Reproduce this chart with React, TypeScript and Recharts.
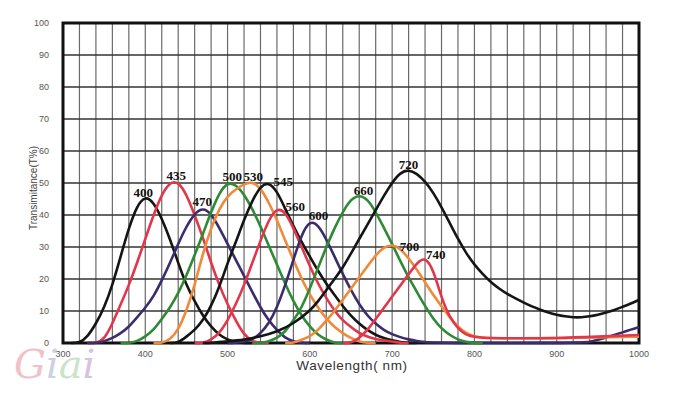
import React from 'react';
import { LineChart, Line, XAxis, YAxis, CartesianGrid, ReferenceArea, ReferenceDot } from 'recharts';

type Pt = [number, number];

const curve400: Pt[] = [[310,0],[320,0],[330,2],[340,6],[350,11],[360,18],[370,27],[380,36],[390,43],[400,46],[410,44],[420,39],[430,32.5],[440,25],[450,18],[460,13],[470,8.5],[480,5],[490,2.5],[500,1],[510,0.3],[520,0],[530,0]];
const curve435: Pt[] = [[330,0],[340,0],[350,1],[360,6],[370,12],[380,18],[390,25],[400,32.5],[410,40],[420,46.5],[430,50.3],[440,50.5],[450,46.5],[460,40],[470,33],[480,25],[490,18],[500,12],[510,7],[520,2.5],[530,0.5],[540,0],[550,0]];
const curve470: Pt[] = [[330,0],[340,0],[350,0.5],[360,1.5],[370,3],[380,5],[390,8],[400,11],[410,14.5],[420,19.5],[430,25],[440,31],[450,36.5],[460,40.5],[470,42.3],[480,40.5],[490,36],[500,31],[510,26],[520,21],[530,16],[540,11],[550,7],[560,4],[570,1.5],[580,0.5],[590,0],[600,0]];
const curve500: Pt[] = [[370,0],[380,0],[390,0.5],[400,2],[410,4],[420,7.5],[430,11],[440,15.5],[450,21],[460,27.5],[470,34],[480,41],[490,47],[500,50.3],[510,49.5],[520,46.5],[530,42],[540,36.5],[550,30.5],[560,24.5],[570,18.5],[580,13],[590,8.5],[600,5],[610,2.5],[620,1],[630,0],[640,0]];
const curve530: Pt[] = [[410,0],[420,0],[430,1],[440,4],[450,10],[460,18],[470,28],[480,36],[490,42],[500,46],[510,48],[520,49.7],[530,50.5],[540,48.5],[550,44],[560,38.5],[570,32],[580,26],[590,20],[600,15],[610,11],[620,7.5],[630,5],[640,3],[650,1.5],[660,0.5],[670,0],[680,0]];
const curve545: Pt[] = [[430,0],[440,0],[450,2],[460,4],[470,7],[480,11.5],[490,17.5],[500,25],[510,31.5],[520,38.5],[530,44.5],[540,49],[550,50.3],[560,47.5],[570,42],[580,36.5],[590,31.5],[600,27],[610,22.5],[620,18.5],[630,15],[640,11.5],[650,8.5],[660,6],[670,4],[680,2.5],[690,1.5],[700,0.8],[710,0.3],[720,0],[730,0]];
const curve560: Pt[] = [[460,0],[470,0],[480,1],[490,3],[500,7],[510,12],[520,18],[530,25],[540,32],[550,38.5],[560,42.3],[570,41],[580,36],[590,30],[600,24],[610,18.5],[620,14],[630,10],[640,7],[650,5],[660,3],[670,2],[680,1.2],[690,0.8],[700,0.5],[710,0],[720,0]];
const curve600: Pt[] = [[500,0],[510,0],[520,0.5],[530,1],[540,3],[550,6],[560,11],[570,18],[580,26],[590,34],[600,38.3],[610,37],[620,32.5],[630,27],[640,21.5],[650,16.5],[660,12],[670,8.5],[680,6],[690,4],[700,2.7],[710,1.8],[720,1.1],[730,0.6],[740,0.3],[750,0],[930,0],[940,0.3],[950,1],[960,1.7],[970,2.5],[980,3.3],[990,4.2],[1000,5]];
const curve660: Pt[] = [[530,0],[540,0],[550,0.5],[560,1.5],[570,3.5],[580,7],[590,11],[600,17],[610,23.5],[620,30],[630,36],[640,41],[650,45],[660,46.3],[670,45],[680,41],[690,36],[700,31],[710,25.5],[720,20.5],[730,16],[740,11.5],[750,7.5],[760,4.5],[770,2.5],[780,1],[790,0.3],[800,0],[810,0]];
const curve700: Pt[] = [[570,0],[580,0],[590,1],[600,2],[610,4],[620,7],[630,10],[640,13.5],[650,17],[660,20.5],[670,24],[680,27.5],[690,30],[700,30.8],[710,29.5],[720,26.5],[730,23],[740,19],[750,15],[760,11.5],[770,8],[780,5],[790,3],[800,2],[810,1.5],[850,1.5],[900,1.5],[950,1.7],[1000,2]];
const curve720: Pt[] = [[470,0],[480,0],[500,0.5],[520,1],[540,2],[560,3.5],[580,6],[600,10],[610,13],[620,16.5],[630,20],[640,23.5],[650,28],[660,32.5],[670,37],[680,41.5],[690,46],[700,50.2],[710,53.3],[720,54.2],[730,53],[740,50.5],[750,47],[760,42.5],[770,37.5],[780,32.5],[790,28],[800,24.5],[810,21.5],[820,19],[830,17],[840,15.3],[850,13.9],[860,12.6],[870,11.4],[880,10.4],[890,9.5],[900,8.8],[910,8.3],[920,8],[930,8],[940,8.3],[950,8.8],[960,9.5],[970,10.3],[980,11.3],[990,12.3],[1000,13.5]];
const curve740: Pt[] = [[640,0],[650,0],[660,1.5],[670,4],[680,7.5],[690,11],[700,14.5],[710,18],[720,21.5],[730,25],[740,27],[750,23],[760,14],[770,8],[780,4.5],[790,2.5],[800,1.8],[820,1.5],[850,1.5],[900,1.5],[950,2],[1000,2.5]];

const seriesNames = ['400','435','470','500','530','545','560','600','660','700','720','740'];
const seriesCurves = [curve400, curve435, curve470, curve500, curve530, curve545, curve560, curve600, curve660, curve700, curve720, curve740];
const seriesColors = ['#151515','#e2364a','#3b2d6b','#2f8a36','#ef8a3a','#151515','#e2364a','#3b2d6b','#2f8a36','#ef8a3a','#151515','#e2364a'];

// peak label anchor points [nm, %]
const labelNm = [397.4, 437.6, 469.2, 505.7, 531.3, 567.8, 582.4, 610.4, 665.2, 721.2, 720, 752.9];
const labelVal = [47.2, 52.5, 44.4, 52.2, 52.2, 50.6, 42.8, 40, 47.8, 30.3, 55.9, 27.8];

const xTicks = [300,320,340,360,380,400,420,440,460,480,500,520,540,560,580,600,620,640,660,680,700,720,740,760,780,800,820,840,860,880,900,920,940,960,980,1000];
const yTicks = [0,10,20,30,40,50,60,70,80,90,100];

export default function App() {
  return (
    <div style={{ position: 'absolute', left: 0, top: 0, width: 674, height: 399, background: '#fff' }}>
      <LineChart width={674} height={399} margin={{ top: 23, right: 35, bottom: 26, left: 0 }}>
        <CartesianGrid vertical={true} horizontal={false} stroke="#6a6a6a" strokeWidth={1.2} />
        <CartesianGrid vertical={false} horizontal={true} stroke="#333" strokeWidth={1.4} />
        <XAxis
          dataKey="nm"
          type="number"
          domain={[300, 1000]}
          ticks={xTicks}
          interval={0}
          tickFormatter={(v: number) => (v % 100 === 0 ? String(v) : '')}
          axisLine={false}
          tickLine={false}
          tickMargin={2}
          height={30}
          tick={{ fontSize: 9, fill: '#555', fontFamily: '"Liberation Sans", Arial, sans-serif' }}
          allowDuplicatedCategory={false}
        />
        <YAxis
          type="number"
          domain={[0, 100]}
          ticks={yTicks}
          interval={0}
          axisLine={false}
          tickLine={false}
          tickMargin={8}
          width={63}
          tick={{ fontSize: 9, fill: '#555', fontFamily: '"Liberation Sans", Arial, sans-serif' }}
        />
        {seriesCurves.map((c, i) => (
          <Line
            key={seriesNames[i]}
            data={c.map(([nm, t]) => ({ nm, t }))}
            dataKey="t"
            type="basis"
            stroke={seriesColors[i]}
            strokeWidth={2.6}
            dot={false}
            activeDot={false}
            isAnimationActive={false}
          />
        ))}
        <ReferenceArea x1={300} x2={1000} y1={0} y2={100} fill="none" stroke="#111" strokeWidth={3} ifOverflow="visible" />
        {seriesNames.map((n, i) => (
          <ReferenceDot
            key={'l' + n}
            x={labelNm[i]}
            y={labelVal[i]}
            r={0}
            fill="none"
            stroke="none"
            ifOverflow="visible"
            label={{ value: n, position: 'center', fill: '#111', fontSize: 13, fontWeight: 'bold', fontFamily: '"Liberation Serif", "Times New Roman", serif' }}
          />
        ))}
      </LineChart>
      <svg width={674} height={399} style={{ position: 'absolute', left: 0, top: 0, pointerEvents: 'none' }}>
        <text
          x={33}
          y={188}
          transform="rotate(-90 33 188)"
          textAnchor="middle"
          dominantBaseline="central"
          fontSize={10}
          fill="#444"
          fontFamily='"Liberation Sans", Arial, sans-serif'
        >
          Transimitance(T%)
        </text>
        <text
          x={352}
          y={365}
          textAnchor="middle"
          dominantBaseline="central"
          fontSize={13.5}
          fill="#333"
          letterSpacing={0.6}
          fontFamily='"Liberation Sans", Arial, sans-serif'
        >
          Wavelength( nm)
        </text>
        <text x={14} y={378} fontSize={40} fontStyle="italic" fontFamily='"DejaVu Serif", serif' opacity={0.7}>
          <tspan fill="#e9a9b2">G</tspan>
          <tspan fill="#b7bddc">i</tspan>
          <tspan fill="#b5d9b5">a</tspan>
          <tspan fill="#c9a9d2">i</tspan>
        </text>
      </svg>
    </div>
  );
}
